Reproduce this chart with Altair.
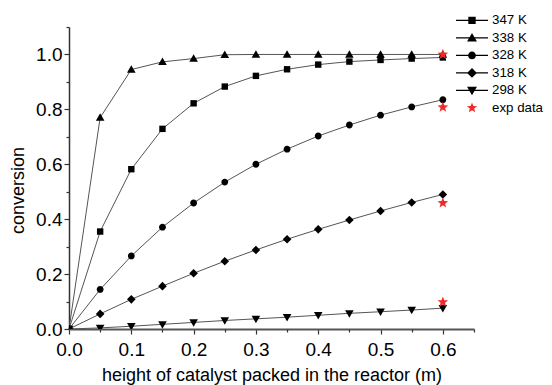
import math
import altair as alt
import pandas as pd

# ---------------- data ----------------
heights = [0.0, 0.05, 0.10, 0.15, 0.20, 0.25, 0.30, 0.35, 0.40, 0.45, 0.50, 0.55, 0.60]
series_names = ["347 K", "338 K", "328 K", "318 K", "298 K"]
conv_347 = [0.0, 0.355, 0.582, 0.729, 0.822, 0.883, 0.922, 0.946, 0.963, 0.974, 0.980, 0.985, 0.989]
conv_338 = [0.0, 0.770, 0.945, 0.973, 0.985, 0.999, 1.000, 1.000, 1.000, 1.000, 1.000, 1.000, 1.000]
conv_328 = [0.0, 0.144, 0.266, 0.371, 0.459, 0.535, 0.600, 0.655, 0.703, 0.743, 0.779, 0.809, 0.835]
conv_318 = [0.0, 0.055, 0.108, 0.156, 0.203, 0.247, 0.288, 0.327, 0.363, 0.397, 0.430, 0.461, 0.490]
conv_298 = [0.0, 0.004, 0.010, 0.017, 0.024, 0.031, 0.037, 0.043, 0.050, 0.057, 0.063, 0.069, 0.076]

exp_label = "exp data"
exp_height = [0.6, 0.6, 0.6, 0.6]
exp_conv = [1.000, 0.808, 0.459, 0.098]

x_ticks = [0.0, 0.1, 0.2, 0.3, 0.4, 0.5, 0.6]
x_minor = [0.05, 0.15, 0.25, 0.35, 0.45, 0.55, 0.65]
y_ticks = [0.0, 0.2, 0.4, 0.6, 0.8, 1.0]
y_minor = [0.1, 0.3, 0.5, 0.7, 0.9, 1.1]

all_names = series_names + [exp_label]

rows = []
for name, vals in zip(series_names, [conv_347, conv_338, conv_328, conv_318, conv_298]):
    for h, v in zip(heights, vals):
        rows.append({"series": name, "h": h, "conv": v})
df = pd.DataFrame(rows)
exp_df = pd.DataFrame({"series": exp_label, "h": exp_height, "conv": exp_conv})
marker_df = pd.concat([df, exp_df], ignore_index=True)
# legend-only rows, placed outside the visible domain and clipped away
legend_df = pd.DataFrame({"series": all_names, "h": [0.7] * 6, "conv": [0.5] * 6})

# ---------------- marker shapes (defined in px, scaled to symbol units) ----------------
def fmt(v):
    return f"{v:.4f}"

def make_shapes(unit, line_half, k, star_r):
    def P(v):
        return fmt(v / unit)
    line = f"M{P(-line_half)},{P(-0.55)}H{P(line_half)}V{P(0.55)}H{P(-line_half)}Z" if line_half else ""
    s = 3.2 * k
    sq = f"M{P(-s)},{P(-s)}H{P(s)}V{P(s)}H{P(-s)}Z"
    t1, t2 = 4.3 * k, 3.2 * k
    tri_up = f"M0,{P(-t1)}L{P(t1)},{P(t2)}L{P(-t1)},{P(t2)}Z"
    r = 3.4 * k
    circ = f"M{P(-r)},0A{P(r)},{P(r)} 0 1,1 {P(r)},0A{P(r)},{P(r)} 0 1,1 {P(-r)},0Z"
    d = 4.3 * k
    dia = f"M0,{P(-d)}L{P(d)},0L0,{P(d)}L{P(-d)},0Z"
    tri_dn = f"M{P(-t1)},{P(-t2)}L{P(t1)},{P(-t2)}L0,{P(t1)}Z"
    pts = []
    for i in range(10):
        ang = math.radians(-90 + 36 * i)
        rr = star_r if i % 2 == 0 else star_r * 0.42
        pts.append((rr * math.cos(ang), rr * math.sin(ang)))
    star = "M" + "L".join(f"{P(x)},{P(y)}" for x, y in pts) + "Z"
    return [line + sq, line + tri_up, line + circ, line + dia, line + tri_dn, star]

PLOT_SIZE = 100          # unit = 5 px
LEG_SIZE = 296           # unit = 8.6 px
plot_shapes = make_shapes(math.sqrt(PLOT_SIZE) / 2, 0, 1.0, 5.6)
legend_shapes = make_shapes(math.sqrt(LEG_SIZE) / 2, 16, 1.15, 5.4)
colors = ["#000000"] * 5 + ["#ee2a2a"]

FONT = "Liberation Sans"
xscale = alt.Scale(domain=[0, 0.65], nice=False, zero=False)
yscale = alt.Scale(domain=[0, 1.1], nice=False, zero=False)

axis_text = dict(labelFont=FONT, labelFontSize=19, labelColor="#000000",
                 titleFont=FONT, titleFontSize=18, titleFontWeight="normal", titleColor="#000000")

legend_opts = dict(title=None, orient="none", legendX=394, legendY=-15.6,
                   symbolSize=LEG_SIZE, symbolStrokeWidth=0, rowPadding=1.5, padding=0,
                   labelOffset=11, labelFontSize=13.3, labelFont=FONT, labelColor="#000000")

lines = alt.Chart(df).mark_line(color="#555555", strokeWidth=1).encode(
    x=alt.X("h:Q", scale=xscale, axis=alt.Axis(
        values=x_ticks, format=".1f", title="height of catalyst packed in the reactor (m)",
        orient="bottom", tickSize=5, labelPadding=6, titleY=51.5, titleBaseline="alphabetic",
        domainColor="#555555", domainWidth=2, tickColor="#333333", tickWidth=1.2,
        labelFlush=False, labelOverlap=False, grid=False, **axis_text)),
    y=alt.Y("conv:Q", scale=yscale, axis=alt.Axis(
        values=y_ticks, format=".1f", title="conversion", orient="left",
        tickSize=5, labelPadding=2, titleX=-45.5, titleY=163, titleBaseline="alphabetic",
        titleAlign="center", titleAngle=270,
        domainColor="#333333", domainWidth=1.5, tickColor="#333333", tickWidth=1.2,
        labelFlush=False, labelOverlap=False, grid=False, **axis_text)),
    detail="series:N",
)

minor = alt.Chart(df).mark_point(opacity=0).encode(
    x=alt.X("h:Q", scale=xscale, axis=alt.Axis(
        values=x_minor, labels=False, domain=False, tickSize=3, title=None, orient="bottom",
        tickColor="#333333", tickWidth=1.2, grid=False)),
    y=alt.Y("conv:Q", scale=yscale, axis=alt.Axis(
        values=y_minor, labels=False, domain=False, tickSize=3, title=None, orient="left",
        tickColor="#333333", tickWidth=1.2, grid=False)),
)

points = alt.Chart(marker_df).mark_point(filled=True, size=PLOT_SIZE, opacity=1, clip=True).encode(
    x=alt.X("h:Q", scale=xscale, axis=None),
    y=alt.Y("conv:Q", scale=yscale, axis=None),
    shape=alt.Shape("series:N", scale=alt.Scale(domain=all_names, range=plot_shapes), legend=None),
    color=alt.Color("series:N", scale=alt.Scale(domain=all_names, range=colors), legend=None),
)

legend_layer = alt.Chart(legend_df).mark_point(filled=True, size=LEG_SIZE, opacity=1, clip=True).encode(
    x=alt.X("h:Q", scale=xscale, axis=None),
    y=alt.Y("conv:Q", scale=yscale, axis=None),
    shape=alt.Shape("series:N", scale=alt.Scale(domain=all_names, range=legend_shapes),
                    legend=alt.Legend(**legend_opts)),
    color=alt.Color("series:N", scale=alt.Scale(domain=all_names, range=colors),
                    legend=alt.Legend(**legend_opts)),
)

chart = alt.layer(lines, minor, points, legend_layer).resolve_scale(
    shape="independent", color="independent"
).resolve_axis(
    x="independent", y="independent"
).properties(
    width=405, height=302,
    autosize=alt.AutoSizeParams(type="none"),
    padding={"left": 61, "top": 19, "right": 70, "bottom": 56},
).configure(font=FONT).configure_view(stroke=None)

chart.save("out.html", embed_options={"renderer": "svg", "actions": False})
